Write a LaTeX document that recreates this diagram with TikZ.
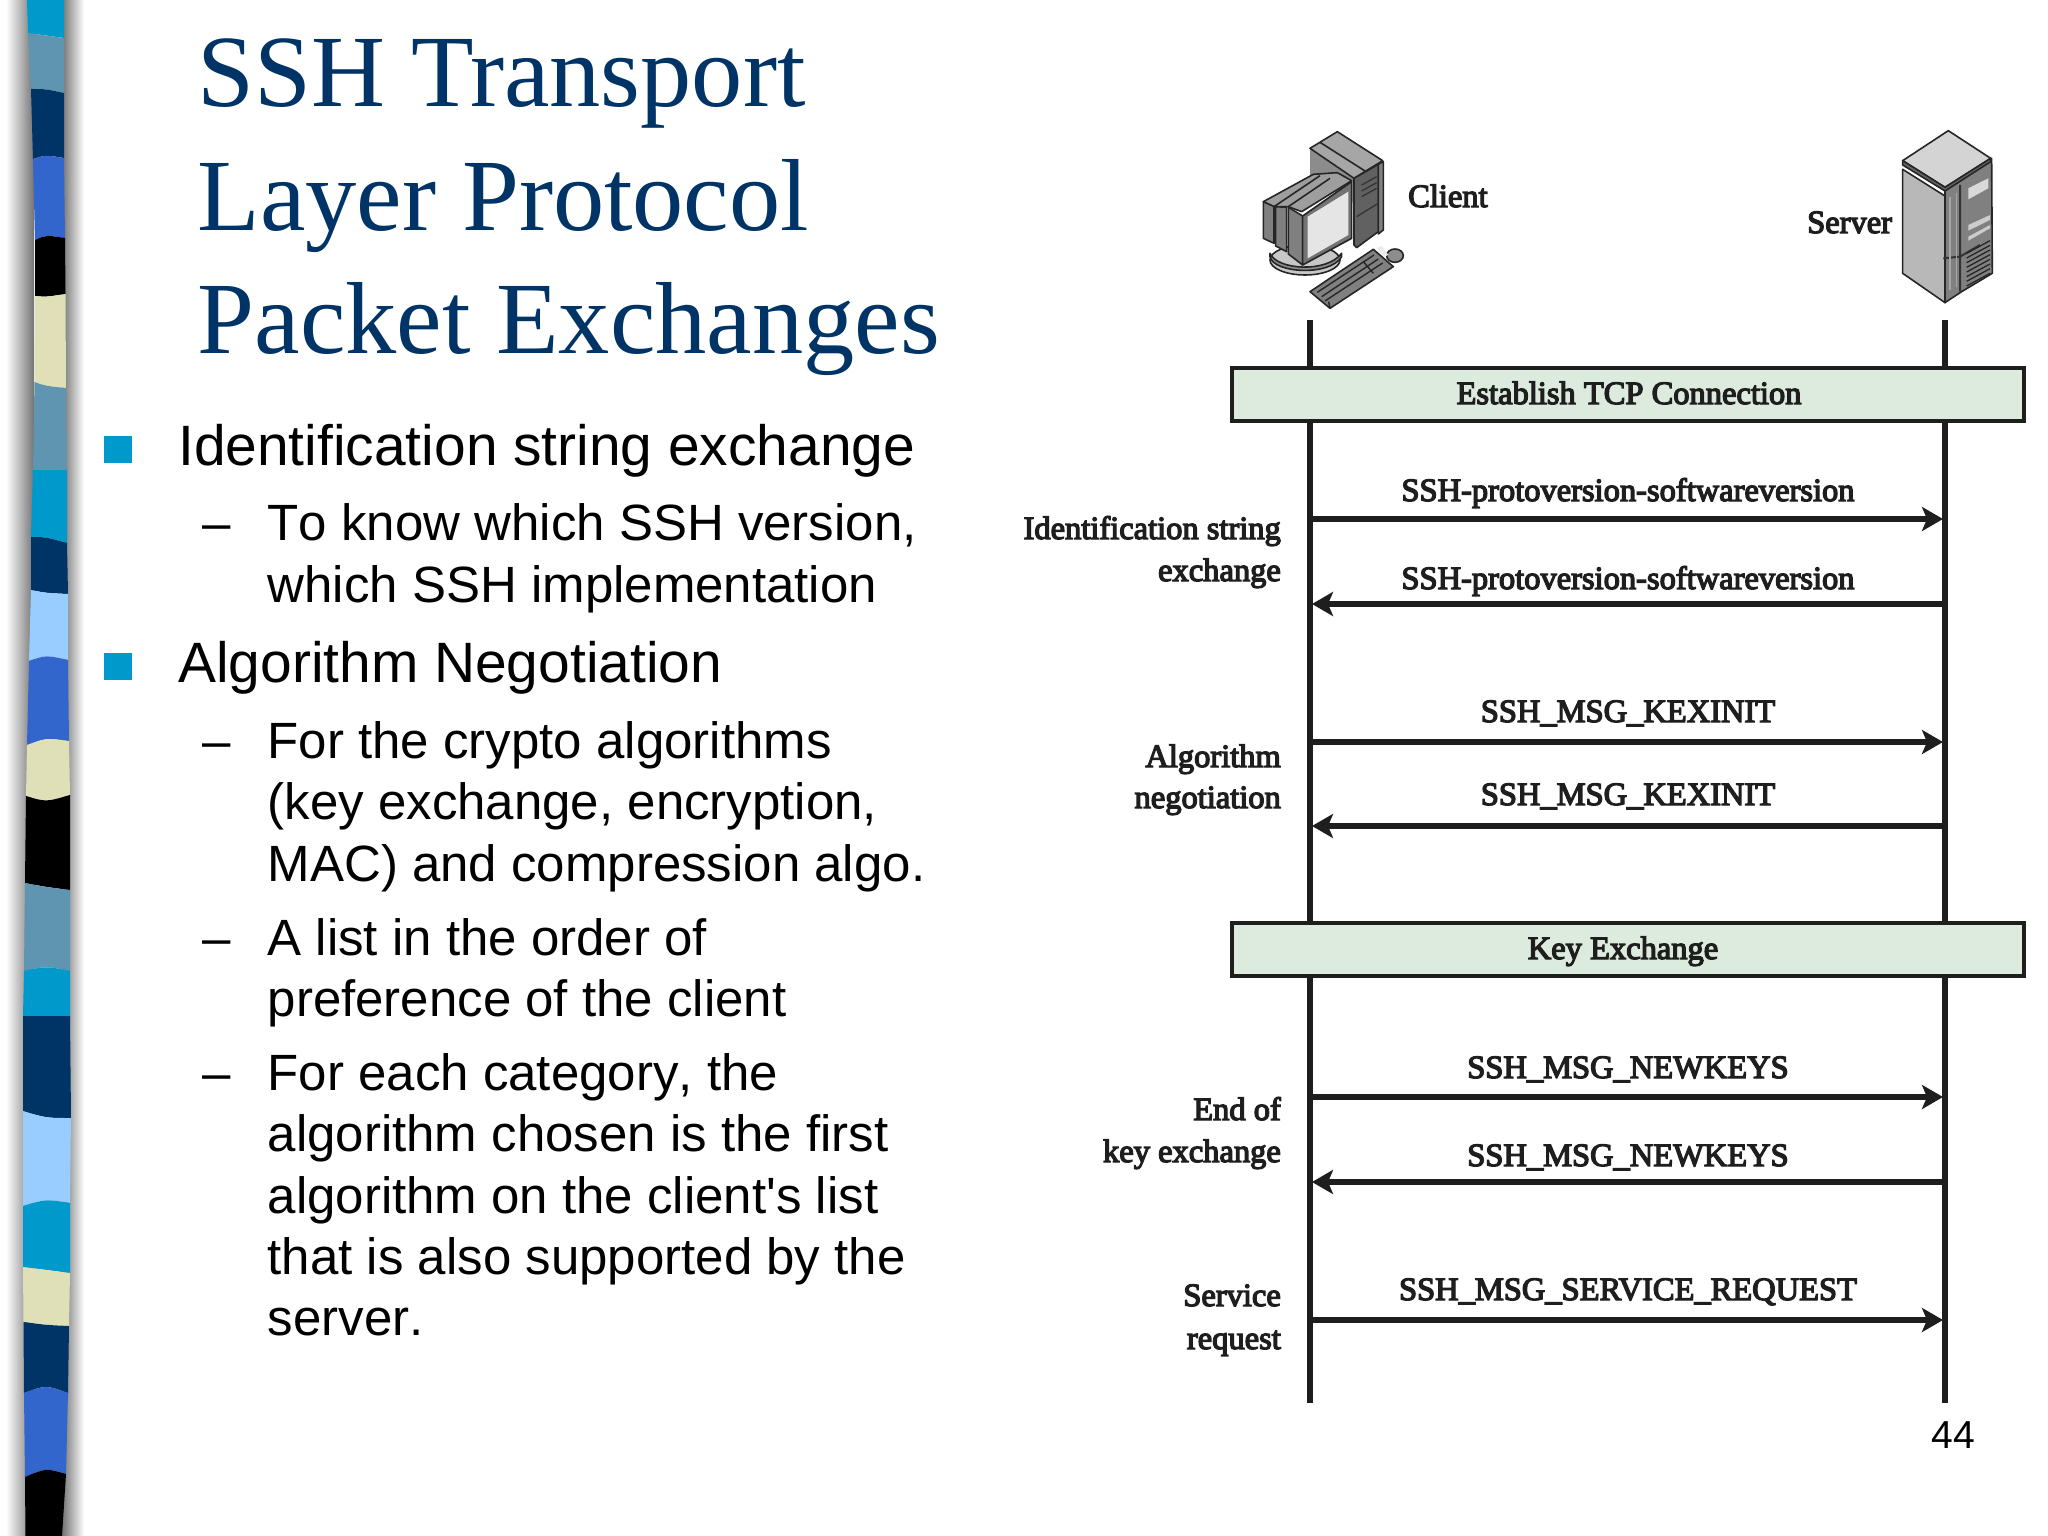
\documentclass[tikz,border=0pt]{standalone}
\usepackage{fontspec}
\setmainfont{Liberation Serif}
\newfontfamily\bodyfont[Kerning=Off]{Liberation Sans}
\newfontfamily\figfont[FakeBold=4]{Liberation Serif}
\usetikzlibrary{arrows.meta}
\definecolor{bcyan}{HTML}{0099CC}
\definecolor{bteal}{HTML}{5F95B0}
\definecolor{bnavy}{HTML}{003366}
\definecolor{bblue}{HTML}{3366CC}
\definecolor{bbeige}{HTML}{E0E0B8}
\definecolor{bsky}{HTML}{99CCFF}
\definecolor{boxgreen}{HTML}{DDEBDF}
\definecolor{ink}{HTML}{1E1E1E}
\tikzset{
 titletext/.style={anchor=base west,inner sep=0,text=bnavy,font=\fontsize{102.4}{102}\selectfont},
 leadtext/.style={anchor=base west,inner sep=0,text=black,font=\bodyfont\fontsize{56.9}{57}\selectfont},
 subtext/.style={anchor=base west,inner sep=0,text=black,font=\bodyfont\fontsize{51}{51}\selectfont},
 bulletbox/.style={fill=bcyan,draw=none},
 figlabel/.style={inner sep=0,text=ink,font=\figfont\fontsize{32.5}{32}\selectfont},
 sidelabel/.style={figlabel,anchor=base east},
 msglabel/.style={figlabel,anchor=base},
 lifeline/.style={draw=ink,line width=6pt},
 phasebox/.style={draw=ink,line width=4.5pt,fill=boxgreen,minimum height=53pt,minimum width=792pt,inner sep=0},
 msgarrow/.style={draw=ink,line width=5.5pt,-{Stealth[length=21pt,width=24pt,inset=5pt]}},
 iconline/.style={draw=black!85,line width=1.6pt,line join=round},
}
\begin{document}
\begin{tikzpicture}[x=1pt,y=-1pt]
\useasboundingbox (0,0) rectangle (2048,1536);
\fill[white] (0,0) rectangle (2048,1536);
% sidebar shadow
\shade[left color=white,right color=black!55] (6,0) rectangle (34,1536);
\shade[left color=black!55,right color=white] (62,0) rectangle (84,1536);
% sidebar stripes
\def\pxl{27}\def\pyl{0}\def\pxr{64}\def\pyr{0}\def\pcy{0}
\foreach \col/\xl/\yl/\xr/\yr/\cy in {
 bcyan/28/33/64/38/36, bteal/31/89/64/93/89, bnavy/33/159/64/158/155,
 bblue/35/240/65/238/235, black/35/296/65.5/294/297, bbeige/34.5/382/66/388/386,
 bteal/33/470/67/470/470, bcyan/31/537/67/543/537, bnavy/31/590/68/594/593,
 bsky/29/661/68/660/655, bblue/27/745/69/741/738, bbeige/26/796/70/795/802,
 black/25/883/70/890/887, bteal/24/971/70/971/966, bcyan/23/1016/70/1016/1016,
 bnavy/23/1111/71/1118/1118, bsky/23/1206/70/1203/1199, bcyan/23/1267/70/1273/1270,
 bbeige/23.5/1322/69/1326/1325, bnavy/24/1393/68/1393/1385, bblue/25/1477/66/1474/1468,
 black/25.5/1536/62/1536/1536}{
 \fill[\col] (\pxl,\pyl) .. controls (46,\pcy) .. (\pxr,\pyr) -- (\xr,\yr) .. controls (46,\cy) .. (\xl,\yl) -- cycle;
 \xdef\pxl{\xl}\xdef\pyl{\yl}\xdef\pxr{\xr}\xdef\pyr{\yr}\xdef\pcy{\cy}
}
% title
\node[titletext] (title1) at (197.5,107) {SSH Transport};
\node[titletext] (title2) at (197.5,230) {Layer Protocol};
\node[titletext] (title3) at (197.5,353.5) {Packet Exchanges};
% bullets
\fill[bulletbox] (104,436) rectangle (132,463);
\fill[bulletbox] (104,653) rectangle (132,680);
\node[leadtext] (l1) at (178,465.5) {Identification string exchange};
\node[leadtext] (l2) at (178,682.5) {Algorithm Negotiation};
\node[subtext] (d1) at (202,540.5) {–};
\node[subtext] (s1a) at (267.5,540.5) {To know which SSH version,};
\node[subtext] (s1b) at (267.5,602.5) {which SSH implementation};
\node[subtext] (d2) at (202,758) {–};
\node[subtext] (s2a) at (267.5,758) {For the crypto algorithms};
\node[subtext] (s2b) at (267.5,819) {(key exchange, encryption,};
\node[subtext] (s2c) at (267.5,881) {MAC) and compression algo.};
\node[subtext] (d3) at (202,955) {–};
\node[subtext] (s3a) at (267.5,955) {A list in the order of};
\node[subtext] (s3b) at (267.5,1016) {preference of the client};
\node[subtext] (d4) at (202,1090) {–};
\node[subtext] (s4a) at (267.5,1090) {For each category, the};
\node[subtext] (s4b) at (267.5,1151) {algorithm chosen is the first};
\node[subtext] (s4c) at (267.5,1213) {algorithm on the client's list};
\node[subtext] (s4d) at (267.5,1274) {that is also supported by the};
\node[subtext] (s4e) at (267.5,1335) {server.};
\node[anchor=base,inner sep=0,font=\bodyfont\fontsize{39}{39}\selectfont] (pageno) at (1953,1448.5) {44};
% client icon
\begin{scope}[shift={(1230,110)},x=.3333pt,y=-.3333pt]
 \fill[black!30] (240,115) -- (240,200) -- (372,280) -- (372,205) -- cycle;
 \fill[black!45] (240,115) -- (240,195) -- (330,195) -- (372,215) -- (372,205) -- cycle;
 \draw[iconline,fill=black!35] (240,115) -- (322,65) -- (458,152) -- (372,205) -- cycle;
 \draw[iconline] (270,97) -- (405,183);
 \draw[iconline,fill=black!62] (372,205) -- (445,163) -- (445,365) -- (380,413) -- (372,405) -- cycle;
 \draw[iconline,fill=black!50] (445,163) -- (460,155) -- (460,360) -- (445,372) -- cycle;
 \draw[black!80,line width=1.3pt] (395,225) -- (440,200) (395,243) -- (440,218) (395,260) -- (440,235) (380,320) -- (445,280);
 \draw[iconline,fill=black!22] (225,450) ellipse [x radius=105,y radius=45];
 \draw[iconline,fill=black!45] (120,430) .. controls (140,480) and (290,490) .. (335,430) -- (335,440) .. controls (300,500) and (130,490) .. (120,440) -- cycle;
 \draw[iconline,fill=black!38] (100,275) -- (250,193) -- (322,188) -- (365,212) -- (215,305) -- (175,290) -- (132,290) -- cycle;
 \draw[iconline] (132,290) -- (270,197) (175,290) -- (300,205);
 \draw[iconline,fill=black!50] (100,275) -- (132,290) -- (132,400) -- (100,385) -- cycle;
 \draw[iconline,fill=black!50] (137,290) -- (170,292) -- (170,425) -- (137,408) -- cycle;
 \draw[iconline,fill=black!50] (175,292) -- (218,318) -- (218,465) -- (175,432) -- cycle;
 \draw[iconline,fill=black!55] (218,318) -- (365,215) -- (365,385) -- (218,465) -- cycle;
 \fill[black!10] (233,320) -- (355,245) -- (355,375) -- (233,445) -- cycle;
 \draw[iconline,fill=black!45] (495,437) ellipse [x radius=25,y radius=20];
 \fill[black!8] (440,415) -- (455,408) -- (475,435) -- (462,440) -- cycle;
 \draw[iconline,fill=black!50] (240,545) -- (430,418) -- (490,470) -- (300,595) -- cycle;
 \draw[black!85,line width=1.4pt] (262,547) -- (432,435) (275,560) -- (445,447) (285,573) -- (458,459) (400,455) -- (430,490) (300,595) -- (296,575);
\end{scope}
% server icon
\begin{scope}[shift={(1780,110)},x=.3333pt,y=-.3333pt]
 \draw[iconline,fill=black!28] (368,178) -- (495,258) -- (495,578) -- (368,490) -- cycle;
 \draw[iconline,fill=black!50] (495,232) -- (635,145) -- (637,490) -- (545,545) -- (495,578) -- cycle;
 \draw[iconline,fill=black!17] (368,152) -- (505,62) -- (632,145) -- (495,232) -- cycle;
 \draw[iconline,fill=black!60] (368,152) -- (495,232) -- (632,145) -- (632,155) -- (495,243) -- (368,165) -- cycle;
 \draw[black!80,line width=2pt] (540,225) -- (540,545) (490,445) -- (540,440) -- (600,405);
 \fill[black!15] (565,235) -- (625,205) -- (625,235) -- (565,268) -- cycle;
 \fill[black!20] (565,345) -- (630,315) -- (630,330) -- (565,362) -- cycle;
 \fill[black!20] (565,380) -- (630,345) -- (630,355) -- (565,392) -- cycle;
 \draw[black!35,line width=1.3pt] (510,260) -- (510,540) (530,250) -- (530,530);
 \foreach \k in {0,...,7}{\draw[black!85,line width=1.3pt] (560,{430+\k*14}) -- (630,{392+\k*14});}
\end{scope}
\node[figlabel,anchor=base west] (client) at (1408,207) {Client};
\node[figlabel,anchor=base west] (server) at (1807,233) {Server};
% coordinates on the lifelines
\coordinate (ctop) at (1310,320); \coordinate (cbot) at (1310,1403);
\coordinate (stop) at (1945,320); \coordinate (sbot) at (1945,1403);
\coordinate (c1) at (1313,519); \coordinate (s1) at (1943,519);
\coordinate (c2) at (1312,604); \coordinate (s2) at (1944,604);
\coordinate (c3) at (1313,742); \coordinate (s3) at (1943,742);
\coordinate (c4) at (1312,826); \coordinate (s4) at (1944,826);
\coordinate (c5) at (1313,1097); \coordinate (s5) at (1943,1097);
\coordinate (c6) at (1312,1182); \coordinate (s6) at (1944,1182);
\coordinate (c7) at (1313,1320); \coordinate (s7) at (1943,1320);
\draw[lifeline] (ctop) -- (cbot);
\draw[lifeline] (stop) -- (sbot);
\node[phasebox] (tcp) at (1628,394.5) {};
\node[msglabel] (tcplabel) at (1629,404) {Establish TCP Connection};
\node[phasebox] (kex) at (1628,949.5) {};
\node[msglabel] (kexlabel) at (1623,959) {Key Exchange};
\draw[msgarrow] (c1) -- (s1);
\draw[msgarrow] (s2) -- (c2);
\draw[msgarrow] (c3) -- (s3);
\draw[msgarrow] (s4) -- (c4);
\draw[msgarrow] (c5) -- (s5);
\draw[msgarrow] (s6) -- (c6);
\draw[msgarrow] (c7) -- (s7);
\node[msglabel] (m1) at (1628,501) {SSH-protoversion-softwareversion};
\node[msglabel] (m2) at (1628,589) {SSH-protoversion-softwareversion};
\node[msglabel] (m3) at (1628,722) {SSH\_MSG\_KEXINIT};
\node[msglabel] (m4) at (1628,805) {SSH\_MSG\_KEXINIT};
\node[msglabel] (m5) at (1628,1078) {SSH\_MSG\_NEWKEYS};
\node[msglabel] (m6) at (1628,1166) {SSH\_MSG\_NEWKEYS};
\node[msglabel] (m7) at (1628,1300) {SSH\_MSG\_SERVICE\_REQUEST};
\node[sidelabel] (a1) at (1281,539) {Identification string};
\node[sidelabel] (a2) at (1281,581) {exchange};
\node[sidelabel] (b1) at (1281,767) {Algorithm};
\node[sidelabel] (b2) at (1281,808) {negotiation};
\node[sidelabel] (e1) at (1281,1120) {End of};
\node[sidelabel] (e2) at (1281,1162) {key exchange};
\node[sidelabel] (r1) at (1281,1306) {Service};
\node[sidelabel] (r2) at (1281,1349) {request};
\end{tikzpicture}
\end{document}
